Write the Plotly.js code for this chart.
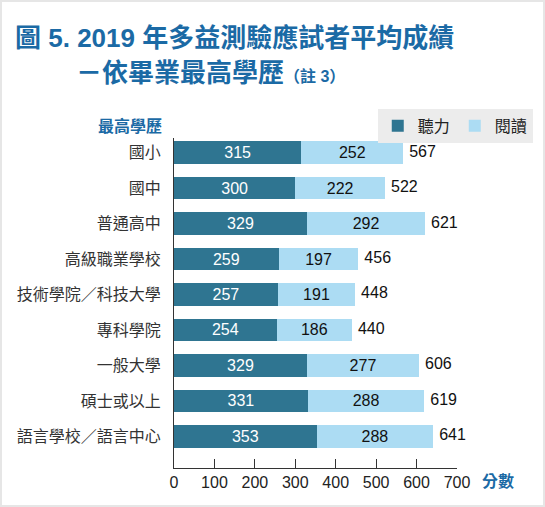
<!DOCTYPE html>
<html>
<head>
<meta charset="utf-8">
<script src="https://cdn.plot.ly/plotly-3.0.1.min.js"></script>
<style>
body { margin: 0; background: #ffffff; }
#cadre { position: absolute; left: 0; top: 0; width: 545px; height: 507px; box-sizing: border-box;
    border: 2px solid #e6e6e6; pointer-events: none; }
</style>
</head>
<body>
<div id="graphe" style="width:545px;height:507px;"></div>
<div id="cadre"></div>
<script>
let categories = ["國小", "國中", "普通高中", "高級職業學校", "技術學院／科技大學",
    "專科學院", "一般大學", "碩士或以上", "語言學校／語言中心"]
let ecoute = [315, 300, 329, 259, 257, 254, 329, 331, 353]
let lecture = [252, 222, 292, 197, 191, 186, 277, 288, 288]
let totaux = [567, 522, 621, 456, 448, 440, 606, 619, 641]
let graduations = [0, 100, 200, 300, 400, 500, 600, 700]

let police = "Liberation Sans, Noto Sans CJK TC, sans-serif"
let bleu_titre = "#1b6aa5"

let trace_ecoute = {
    y: categories, x: ecoute, type: "bar", orientation: "h", name: "聽力",
    marker: {color: "#2f7591"},
    text: ecoute.map(String), textposition: "inside", insidetextanchor: "middle",
    constraintext: "none",
    textfont: {color: "#ffffff", size: 16, family: police}
}
let trace_lecture = {
    y: categories, x: lecture, type: "bar", orientation: "h", name: "閱讀",
    marker: {color: "#acdcf3"},
    text: lecture.map(String), textposition: "inside", insidetextanchor: "middle",
    constraintext: "none",
    textfont: {color: "#111111", size: 16, family: police}
}
let trace_totaux = {
    y: categories, x: totaux, type: "scatter", mode: "markers+text", showlegend: false,
    marker: {size: 8, opacity: 0},
    text: totaux.map(String), textposition: "middle right", cliponaxis: false,
    textfont: {color: "#111111", size: 16, family: police}
}

let layout = {
    width: 545,
    height: 507,
    barmode: "stack",
    bargap: 0.36,
    paper_bgcolor: "#ffffff",
    plot_bgcolor: "#ffffff",
    font: {family: police, color: "#222222", size: 16},
    margin: {l: 174, r: 79, t: 138, b: 39, pad: 0},
    showlegend: true,
    legend: {
        orientation: "h", x: 0.72, y: 1.088, xanchor: "left", yanchor: "top",
        bgcolor: "#ececec", font: {size: 16, color: "#222222"}, traceorder: "normal",
        itemwidth: 30, tracegroupgap: 0
    },
    xaxis: {
        range: [0, 700],
        tickvals: graduations,
        ticks: "inside", ticklen: 9, tickcolor: "#333333", tickwidth: 1,
        showline: true, linecolor: "#333333", linewidth: 1,
        showgrid: false, zeroline: false,
        tickfont: {size: 16, color: "#222222"}
    },
    yaxis: {
        type: "category",
        range: [8.89, -0.41],
        showline: true, linecolor: "#333333", linewidth: 1,
        showgrid: false, zeroline: false, ticks: "",
        ticklabelstandoff: 9,
        tickfont: {size: 16, color: "#333333"}
    },
    annotations: [
        {
            text: "<b>圖 5. 2019 年多益測驗應試者平均成績</b>",
            xref: "paper", yref: "paper", x: -0.57, y: 1.303,
            xanchor: "left", yanchor: "middle", showarrow: false,
            font: {size: 26, color: bleu_titre}
        },
        {
            text: "<b>－依畢業最高學歷<span style='font-size:16px'>（註 3）</span></b>",
            xref: "paper", yref: "paper", x: -0.355, y: 1.197,
            xanchor: "left", yanchor: "middle", showarrow: false,
            font: {size: 26, color: bleu_titre}
        },
        {
            text: "<b>最高學歷</b>",
            xref: "paper", yref: "paper", x: -0.0336, y: 1.036,
            xanchor: "right", yanchor: "middle", showarrow: false,
            font: {size: 16, color: bleu_titre}
        },
        {
            text: "<b>分數</b>",
            xref: "paper", yref: "paper", x: 1.08, y: -0.042,
            xanchor: "left", yanchor: "middle", showarrow: false,
            font: {size: 16, color: bleu_titre}
        }
    ]
}

Plotly.newPlot("graphe", [trace_ecoute, trace_lecture, trace_totaux], layout,
    {staticPlot: true, displayModeBar: false})
</script>
</body>
</html>
